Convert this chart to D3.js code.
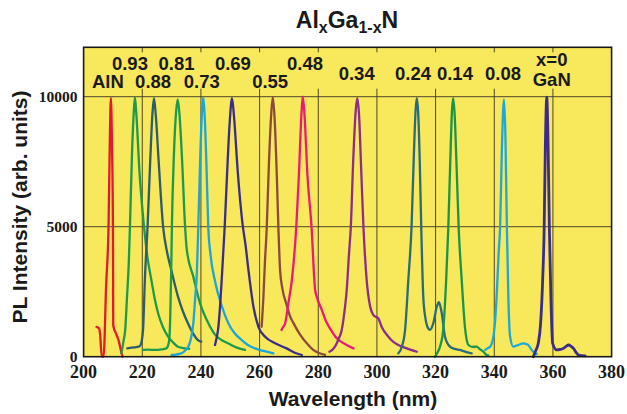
<!DOCTYPE html>
<html><head><meta charset="utf-8">
<script src="https://cdn.jsdelivr.net/npm/d3@7/dist/d3.min.js"></script>
<style>html,body{margin:0;padding:0;background:#fff;} svg{display:block;}</style>
</head><body>
<svg id="chart" width="627" height="414"></svg>
<script>
// ---------- data ----------
const xTicks = [200, 220, 240, 260, 280, 300, 320, 340, 360, 380];
const yTicks = [0, 5000, 10000];
const xGrid = [220, 240, 260, 280, 300, 320, 340, 360];
const yGrid = [5000, 10000];
const xDomain = [200, 380];
const yDomain = [0, 11900];

// [wavelength nm, PL intensity]
const specAlN = [[204.4,1150],[205.2,1100],[205.6,900],[206.2,0],[206.8,0],[207.7,2800],[208.5,5000],[208.9,8000],[209.3,9950],[209.7,8000],[210.0,5000],[210.1,1200],[211.2,850],[212,600],[212.7,250],[213.3,0]];
const spec093 = [[212.9,130],[213.6,600],[214.2,1050],[214.8,2300],[215.4,3600],[215.8,5000],[216.5,7800],[217.1,9400],[217.5,9980],[218,9300],[219,7200],[220.6,5000],[221.8,3800],[223.1,2950],[224.3,2200],[225.4,1670],[227,1150],[228.8,770],[230.5,550],[232.2,380],[234.5,320],[236,300]];
const spec088 = [[214.9,320],[216.5,350],[218,370],[219.1,400],[219.7,550],[220.3,1100],[220.9,3000],[221.8,5000],[222.7,7500],[223.5,9400],[224,9940],[224.6,9300],[225.6,7500],[227.1,5000],[228.5,4000],[229.9,3330],[232.2,2300],[234,1700],[235.6,1280],[237.3,900],[239,640],[240.1,580]];
const spec081 = [[220.3,260],[222,270],[224.2,260],[226.5,280],[228.2,320],[229,510],[229.4,1030],[229.9,3600],[230.1,5000],[230.8,7800],[231.6,9500],[232.1,9900],[232.7,9300],[233.6,7500],[234.6,5000],[235.2,4100],[237.4,3080],[239.7,2050],[242,1410],[244.8,850],[247.6,600],[249.5,500],[252,360],[255,260]];
const spec073 = [[230,65],[231.5,80],[233.4,130],[234.7,250],[235.7,380],[236.6,700],[237.4,1280],[238,2200],[238.6,3200],[239.1,5000],[239.8,7800],[240.4,9500],[240.8,9980],[241.3,9200],[241.9,7300],[242.5,5000],[243.3,3900],[244.8,2900],[247.1,1950],[249.3,1300],[251.5,900],[253.9,640],[256,450],[258.4,320],[261.3,220],[264.7,130]];
const spec069 = [[244.8,450],[245.3,700],[245.9,1100],[246.5,1900],[247.1,3000],[248.1,5000],[248.9,7000],[249.8,9000],[250.6,9940],[251.3,9200],[252.5,7200],[254.3,5000],[255.2,4300],[256.2,3330],[257.9,1920],[259.6,1150],[261.9,770],[265.3,515],[269.2,320],[272,150],[274.4,65]];
const spec055 = [[260.7,1150],[261.3,2300],[261.8,3600],[262.4,4870],[263.2,7500],[264,9400],[264.5,9980],[265.1,9200],[265.8,7200],[266.4,5000],[267,3300],[267.8,2600],[269.2,2000],[270.4,1550],[271.5,1300],[273.8,850],[276.6,450],[278.3,260],[280,150],[282.3,70]];
const spec048 = [[267.5,1030],[268.1,1150],[268.7,1280],[269.8,2050],[271,2950],[272.5,5000],[273.4,7000],[274.2,9200],[274.7,10000],[275.3,9300],[276.3,7000],[277.7,5000],[278.9,2600],[279.5,2300],[281.2,1800],[282.5,1400],[284.2,1050],[286.3,710],[288,560],[289.7,450],[292,320]];
const spec034 = [[283.8,190],[284.8,260],[285.7,385],[287,700],[288,1030],[289,1800],[289.7,2560],[290.5,4000],[291.1,5000],[291.9,7500],[292.8,9500],[293.3,9940],[293.9,9300],[294.6,7300],[295.4,5000],[296.5,2950],[297.7,1920],[298.8,1600],[300.5,1470],[301.6,1150],[303.9,770],[305.5,580],[307.3,450],[310.2,320],[313.6,190]];
const spec024 = [[307.3,130],[308.5,385],[309.6,1030],[310.7,2950],[311.8,5000],[312.6,7800],[313.2,9500],[313.6,9940],[314.1,9300],[314.6,7500],[315.1,5000],[315.8,2300],[316.5,1500],[317.2,1150],[318.1,1030],[319.2,1280],[320.4,1920],[321.1,2100],[321.6,1950],[322.1,1670],[323.2,770],[324.9,385],[326.5,300],[328.3,260],[330.5,180],[332.3,130]];
const spec014 = [[319.8,0],[320.6,150],[321.5,385],[322.6,1030],[323.6,2950],[324.3,4870],[325,7500],[325.6,9500],[326,9940],[326.5,9300],[327.1,7500],[327.9,4870],[328.9,2950],[330,1150],[331.2,450],[332.5,380],[334,385],[335,300],[336.3,190],[337.4,65],[338,40]];
const spec008 = [[336.9,260],[337.8,330],[338.6,385],[339.7,770],[340.3,1400],[340.8,2300],[341.5,4000],[342,5000],[342.6,8000],[343.3,9900],[343.8,8500],[344.3,5000],[344.8,2300],[345.4,770],[346.5,385],[347.3,420],[348.2,450],[349.9,515],[351,480],[351.6,450],[352.5,300],[353.3,190],[354.5,100]];
const specGaN = [[353.3,0],[354.2,250],[355,515],[355.8,1280],[356.5,2950],[357,4870],[357.4,8000],[357.9,9980],[358.3,8500],[358.8,4870],[359.3,2300],[359.9,515],[361.3,260],[362.5,280],[363.6,320],[364.5,400],[365.3,450],[366.2,400],[367,320],[368,150],[368.7,65],[371,30]];

const spectra = [specAlN, spec093, spec088, spec081, spec073, spec069, spec055, spec048, spec034, spec024, spec014, spec008, specGaN];
const spectrumColors = ["#e3192f","#1d9a4a","#2c5d6c","#1d9a4a","#1aa6d8","#3b2c8c","#8c4a3c","#eb1a78","#8c2d8c","#2b6a7a","#1b9449","#1ca8da","#3b2c8c"];

// annotation labels: text, wavelength, intensity of baseline
const labelTexts = ["AlN","0.93","0.88","0.81","0.73","0.69","0.55","0.48","0.34","0.24","0.14","0.08","x=0","GaN"];
const labelNm = [208.3,215.8,223.7,231.7,240.3,250.9,263.6,275.5,293.1,312.3,326.6,343,359.6,359.6];
const labelLevel = [10330,11030,10330,11030,10330,11030,10330,11030,10640,10640,10640,10640,11170,10400];

// ---------- drawing ----------
const svg = d3.select("#chart");
const L = 83.6, R = 611.6, B = 356.7;
const x = d3.scaleLinear().domain(xDomain).range([L, R]);
const yPer = (B - 96.7) / 10000;
const y = d3.scaleLinear().domain(yDomain).range([B, B - yPer * yDomain[1]]);
const T = y(yDomain[1]);

svg.append("rect").attr("x", L).attr("y", T).attr("width", R - L).attr("height", B - T)
  .attr("fill", "#f8e85c");

const gridCol = "#3d3422";
svg.append("g").selectAll("line").data(xGrid).join("line")
  .attr("x1", d => x(d)).attr("x2", d => x(d))
  .attr("y1", y(10000) - 8).attr("y2", B)
  .attr("stroke", gridCol).attr("stroke-width", 0.9);
svg.append("g").selectAll("line").data(xGrid).join("line")
  .attr("x1", d => x(d)).attr("x2", d => x(d))
  .attr("y1", T).attr("y2", T + 5)
  .attr("stroke", gridCol).attr("stroke-width", 0.9);
svg.append("g").selectAll("line").data(yGrid).join("line")
  .attr("x1", L).attr("x2", R)
  .attr("y1", d => y(d)).attr("y2", d => y(d))
  .attr("stroke", gridCol).attr("stroke-width", 0.9);

const line = d3.line().x(d => x(d[0])).y(d => y(d[1])).curve(d3.curveMonotoneX);
svg.append("g").selectAll("path").data(spectra).join("path")
  .attr("d", d => line(d))
  .attr("fill", "none")
  .attr("stroke", (d, i) => spectrumColors[i])
  .attr("stroke-width", (d, i) => i === spectra.length - 1 ? 2.8 : 2.3)
  .attr("stroke-linejoin", "round").attr("stroke-linecap", "round");

svg.append("rect").attr("x", L).attr("y", T).attr("width", R - L).attr("height", B - T)
  .attr("fill", "none").attr("stroke", "#1a1a1a").attr("stroke-width", 1.6);

svg.append("g").selectAll("text").data(xTicks).join("text")
  .attr("x", d => x(d)).attr("y", 378)
  .attr("text-anchor", "middle")
  .attr("font-family", "'Liberation Serif','Times New Roman',serif")
  .attr("font-weight", "bold").attr("font-size", 18).attr("fill", "#1a1a1a")
  .text(d => d);
svg.append("g").selectAll("text").data(yTicks).join("text")
  .attr("x", L - 6).attr("y", d => y(d) + 5)
  .attr("text-anchor", "end")
  .attr("font-family", "'Liberation Serif','Times New Roman',serif")
  .attr("font-weight", "bold").attr("font-size", 15.5).attr("fill", "#1a1a1a")
  .text(d => d);

svg.append("text").attr("x", 353).attr("y", 406).attr("text-anchor", "middle")
  .attr("font-family", "'Liberation Sans',Arial,sans-serif").attr("font-weight", "bold")
  .attr("font-size", 21).attr("fill", "#1a1a1a").text("Wavelength (nm)");
svg.append("text").attr("transform", "translate(27,207) rotate(-90)").attr("text-anchor", "middle")
  .attr("font-family", "'Liberation Sans',Arial,sans-serif").attr("font-weight", "bold")
  .attr("font-size", 21).attr("fill", "#1a1a1a").text("PL Intensity (arb. units)");

const title = svg.append("text").attr("x", 347).attr("y", 28).attr("text-anchor", "middle")
  .attr("font-family", "'Liberation Sans',Arial,sans-serif").attr("font-weight", "bold")
  .attr("font-size", 23).attr("fill", "#1a1a1a");
title.append("tspan").text("Al");
title.append("tspan").attr("font-size", 16).attr("dy", 5).text("x");
title.append("tspan").attr("dy", -5).text("Ga");
title.append("tspan").attr("font-size", 16).attr("dy", 5).text("1-x");
title.append("tspan").attr("dy", -5).text("N");

svg.append("g").selectAll("text").data(labelTexts).join("text")
  .attr("x", (d, i) => x(labelNm[i])).attr("y", (d, i) => y(labelLevel[i]))
  .attr("text-anchor", "middle")
  .attr("font-family", "'Liberation Sans',Arial,sans-serif").attr("font-weight", "bold")
  .attr("font-size", 18.5).attr("fill", "#1a1a1a")
  .text(d => d);
</script>
</body></html>
